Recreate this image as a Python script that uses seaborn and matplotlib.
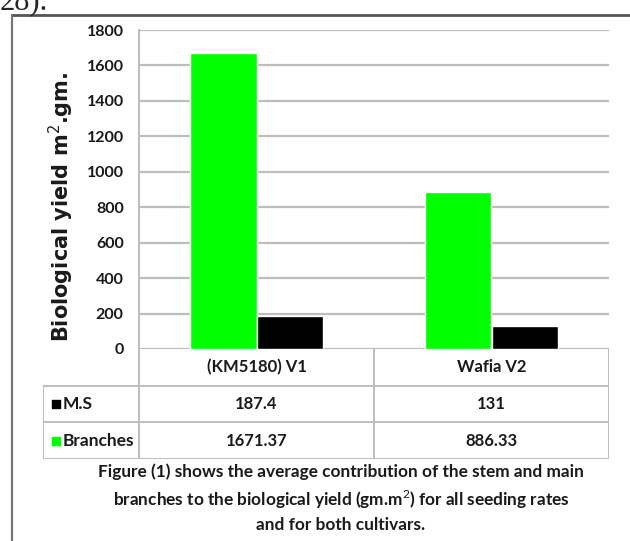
import pandas as pd
import matplotlib.pyplot as plt
import seaborn as sns

# chart data
cultivars = ["(KM5180) V1", "Wafia V2"]
branches = [1671.37, 886.33]
main_stem = [187.4, 131]
series_names = ["Branches", "M.S"]
series_colors = ["#00FF00", "#000000"]
yticks = [0, 200, 400, 600, 800, 1000, 1200, 1400, 1600, 1800]
ylabel = "Biological yield m$^{2}$.gm."
caption = ("Figure (1) shows the average contribution of the stem and main\n"
           "branches to the biological yield (gm.m$^{2}$) for all seeding rates\n"
           "and for both cultivars.")

df = pd.DataFrame({
    "Cultivar": cultivars * 2,
    "Part": [series_names[0]] * 2 + [series_names[1]] * 2,
    "Value": branches + main_stem,
})

sns.set_style("white")
plt.rcParams["font.family"] = ["Lato", "DejaVu Sans"]
plt.rcParams["mathtext.fontset"] = "custom"
plt.rcParams["mathtext.rm"] = "Lato"
plt.rcParams["mathtext.bf"] = "Lato:bold"

W, H = 630, 541
fig = plt.figure(figsize=(W / 100, H / 100), dpi=100)

# layout in pixels
px_left, px_right = 139, 609
px_top, px_base = 30, 349
px_tab_left, px_tab_bottom = 43, 459
grid_col = "#BDBDBD"
txt_col = "#1a1a1a"

ax = fig.add_axes([px_left / W, 1 - px_base / H, (px_right - px_left) / W, (px_base - px_top) / H])
sns.barplot(data=df, x="Cultivar", y="Value", hue="Part", order=cultivars,
            hue_order=series_names, palette=series_colors, width=0.57,
            saturation=1, legend=False, ax=ax, zorder=3)
ax.set_xlim(-0.5, len(cultivars) - 0.5)
ax.set_ylim(0, 1800)
ax.set_yticks(yticks)
ax.set_yticklabels([str(t) for t in yticks], fontsize=11.5, fontweight="bold", color=txt_col)
ax.tick_params(axis="y", length=0, pad=11)
ax.set_xticks([])
ax.set_xlabel("")
ax.set_ylabel(ylabel, family="DejaVu Sans", fontsize=15, fontweight="bold", color=txt_col)
ax.yaxis.label.set_math_fontfamily("dejavusans")
ax.yaxis.set_label_coords((76 - px_left) / (px_right - px_left), (px_base - 207) / (px_base - px_top))
for t in yticks:
    ax.axhline(t, color=grid_col, lw=1.6, zorder=1)
for s in ["top", "right", "bottom"]:
    ax.spines[s].set_visible(False)
ax.spines["left"].set_color(grid_col)
ax.spines["left"].set_linewidth(1.4)

# data table under the chart
unit = (px_right - px_left) / len(cultivars)
x0 = -0.5 - (px_left - px_tab_left) / unit
tab = fig.add_axes([px_tab_left / W, 1 - px_tab_bottom / H,
                    (px_right - px_tab_left) / W, (px_tab_bottom - px_base) / H])
tab.set_xlim(x0, len(cultivars) - 0.5)
tab.set_ylim(3, 0)
tab.axis("off")
lc = "#BDBDBD"
tab.plot([-0.5, -0.5], [0, 3], color=lc, lw=1.4)
for i in range(len(cultivars)):
    tab.plot([i + 0.5, i + 0.5], [0, 3], color=lc, lw=1.4)
tab.plot([x0, x0], [1, 3], color=lc, lw=1.4)
for yy in [1, 2, 3]:
    tab.plot([x0, len(cultivars) - 0.5], [yy, yy], color=lc, lw=1.4)

for i, c in enumerate(cultivars):
    tab.text(i, 0.5, c, ha="center", va="center", fontsize=12, fontweight="bold", color=txt_col)
    tab.text(i, 1.5, f"{main_stem[i]:g}", ha="center", va="center", fontsize=12,
             fontweight="bold", color=txt_col)
    tab.text(i, 2.5, f"{branches[i]:g}", ha="center", va="center", fontsize=12,
             fontweight="bold", color=txt_col)

row_vals = {"M.S": 1.5, "Branches": 2.5}
for name, col in zip(series_names, series_colors):
    yy = row_vals[name]
    tab.scatter([x0 + 0.055], [yy], marker="s", s=36, color=col)
    tab.text(x0 + 0.085, yy, name, ha="left", va="center", fontsize=12.5,
             fontweight="bold", color=txt_col)

# caption
fig.text(341 / W, 1 - 498 / H, caption, ha="center", va="center", fontsize=12.4,
         fontweight="bold", linespacing=1.45, color=txt_col)

# frame of the figure box and the clipped text above it
fig.add_artist(plt.Line2D([12 / W, 1], [1 - 15 / H, 1 - 15 / H], color="#555555", lw=2))
fig.add_artist(plt.Line2D([12 / W, 12 / W], [0, 1 - 15 / H], color="#777777", lw=1.6))
fig.text(0.0, 1 - 9 / H, "28).", family="Liberation Serif", fontsize=22, va="baseline")

fig.savefig("out.png", dpi=100)
